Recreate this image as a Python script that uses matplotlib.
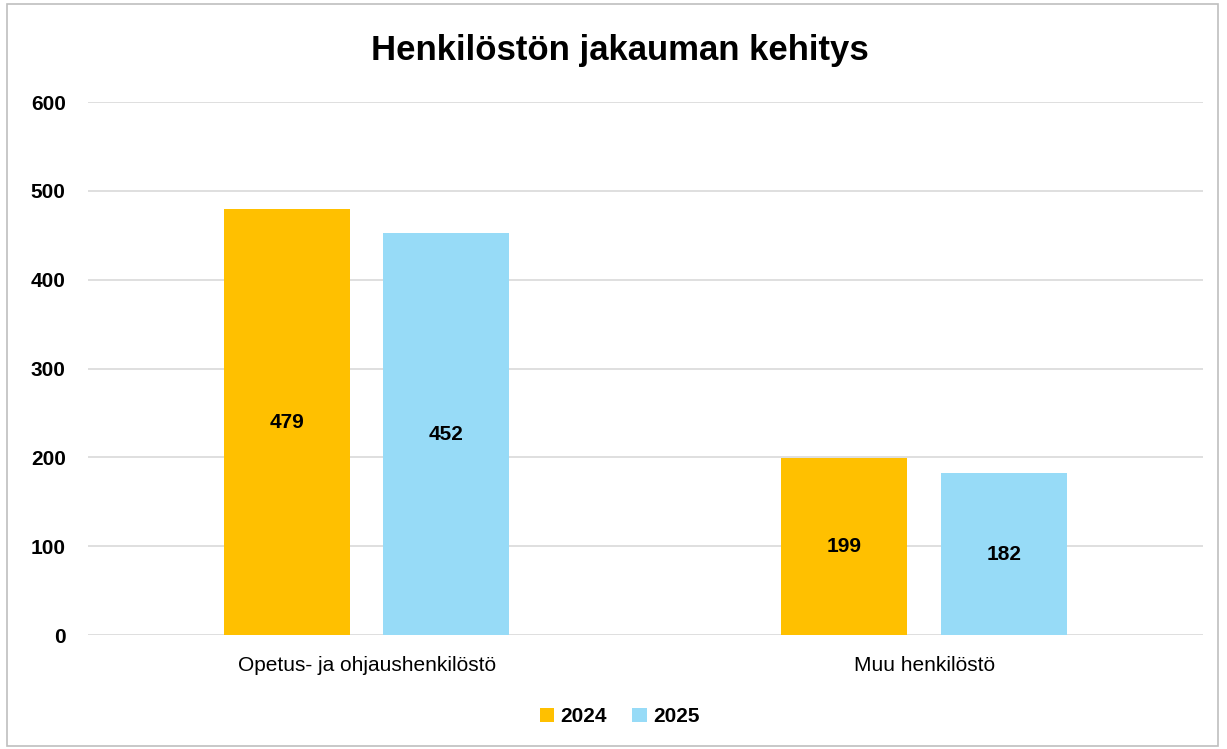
import matplotlib.pyplot as plt
import numpy as np
from matplotlib.patches import Rectangle

categories = ["Opetus- ja ohjaushenkilöstö", "Muu henkilöstö"]
years = ["2024", "2025"]
values_2024 = [479, 199]
values_2025 = [452, 182]
colors = ["#FFC000", "#97DBF7"]

plt.rcParams['font.family'] = ['Liberation Sans', 'DejaVu Sans']

fig = plt.figure(figsize=(12.27, 7.49), dpi=100)
fig.patches.append(Rectangle((0.006, 0.004), 0.987, 0.99, transform=fig.transFigure,
                             fill=False, edgecolor="#BFBFBF", linewidth=1.2))
ax = fig.add_axes([0.0717, 0.1522, 0.9087, 0.7116])

x = np.arange(len(categories))
w = 0.226
off = 0.143
for vals, lab, col, sign in [(values_2024, years[0], colors[0], -1),
                             (values_2025, years[1], colors[1], 1)]:
    bars = ax.bar(x + sign * off, vals, width=w, color=col, label=lab, zorder=3)
    for b, v in zip(bars, vals):
        ax.text(b.get_x() + b.get_width() / 2, v / 2, str(v), ha="center", va="center",
                fontsize=15, fontweight="bold", zorder=4)

ax.set_xlim(-0.5, 1.5)
ax.set_ylim(0, 600)
ax.set_yticks(range(0, 601, 100))
ax.yaxis.grid(True, color="#D9D9D9", linewidth=1.2, zorder=0)
for s in ax.spines.values():
    s.set_visible(False)
ax.tick_params(axis="both", length=0)
ax.tick_params(axis="y", pad=16, labelsize=15)
ax.tick_params(axis="x", pad=15, labelsize=15)
for t in ax.get_yticklabels():
    t.set_fontweight("bold")
ax.set_xticks(x)
ax.set_xticklabels(categories)

fig.text(0.505, 0.932, "Henkilöstön jakauman kehitys", ha="center", va="center",
         fontsize=25, fontweight="bold")
fig.legend(loc="center", bbox_to_anchor=(0.505, 0.043), ncol=2, frameon=False,
           prop={"size": 15, "weight": "bold"}, handlelength=0.7, handleheight=0.7,
           handletextpad=0.3, columnspacing=1.2)

fig.savefig("out.png", dpi=100)
